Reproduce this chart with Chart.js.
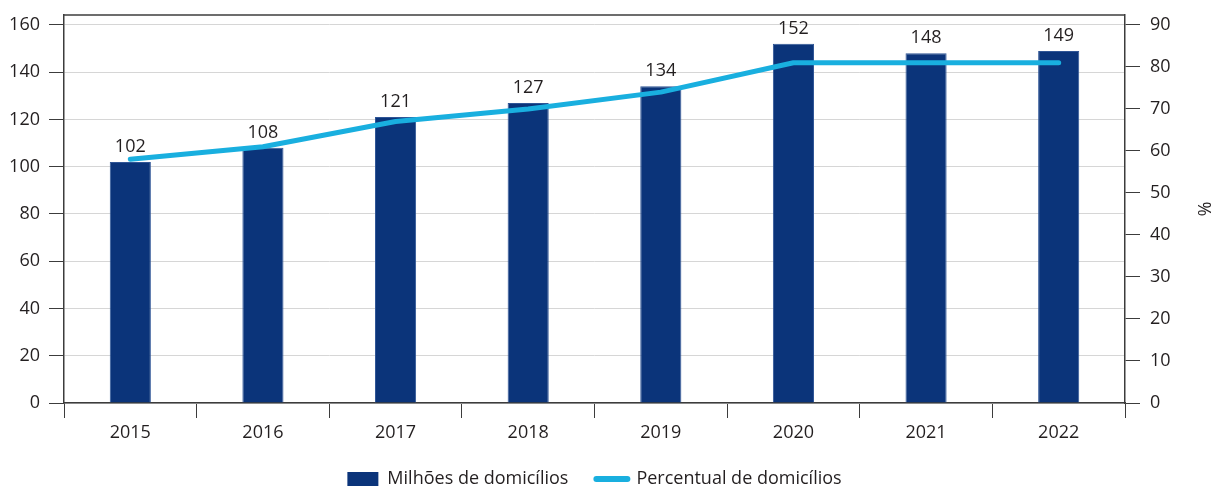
<!DOCTYPE html>
<html>
<head>
<meta charset="utf-8">
<script src="https://cdn.jsdelivr.net/npm/chart.js@4"></script>
<style>
  html, body { margin: 0; padding: 0; background: #fff; }
  #wrap { width: 1217px; height: 489px; }
</style>
</head>
<body>
<div id="wrap"><canvas id="chart"></canvas></div>
<script>
const YEARS = ['2015', '2016', '2017', '2018', '2019', '2020', '2021', '2022'];
const MILHOES = [102, 108, 121, 127, 134, 152, 148, 149];
const PERCENTUAL = [58, 61, 67, 70, 74, 81, 81, 81];
const LEFT_TICKS = [0, 20, 40, 60, 80, 100, 120, 140, 160];
const RIGHT_TICKS = [0, 10, 20, 30, 40, 50, 60, 70, 80, 90];

const NAVY = '#0b347a';
const CYAN = '#19afdf';
const INK = '#231f20';
const AXIS = '#3c3c3c';
const FONT = "'Open Sans', 'Noto Sans', sans-serif";

Chart.defaults.font.family = FONT;
Chart.defaults.font.size = 18;
Chart.defaults.color = INK;

// the y axes reach above 160 / 90, so their labels never overhang the plot
function noOverhang(scale) {
  scale.paddingTop = 0;
  scale.paddingBottom = 0;
}

new Chart(document.getElementById('chart').getContext('2d'), {
  type: 'bar',
  data: {
    labels: YEARS,
    datasets: [
      {
        type: 'bar',
        label: 'Milhões de domicílios',
        data: MILHOES,
        backgroundColor: NAVY,
        borderColor: '#2f5596',
        borderWidth: 1,
        barPercentage: 0.31,
        categoryPercentage: 1,
        yAxisID: 'y',
        order: 2,
      },
      {
        type: 'line',
        label: 'Percentual de domicílios',
        data: PERCENTUAL,
        borderColor: CYAN,
        backgroundColor: CYAN,
        borderWidth: 5,
        borderCapStyle: 'round',
        borderJoinStyle: 'round',
        pointRadius: 0,
        tension: 0,
        yAxisID: 'y1',
        order: 1,
      },
    ],
  },
  options: {
    responsive: true,
    maintainAspectRatio: false,
    animation: false,
    layout: { padding: { top: 15, left: 0, right: 0, bottom: -9 } },
    plugins: {
      tooltip: { enabled: false },
      legend: {
        position: 'bottom',
        fullSize: false,
        labels: {
          usePointStyle: true,
          pointStyleWidth: 31,
          boxHeight: 14,
          padding: 28,
          color: INK,
          font: { size: 18 },
          generateLabels(chart) {
            return chart.data.datasets.map((ds, i) => ({
              text: ds.label,
              datasetIndex: i,
              fillStyle: ds.type === 'bar' ? NAVY : CYAN,
              strokeStyle: ds.type === 'bar' ? NAVY : CYAN,
              lineWidth: ds.type === 'bar' ? 0 : 6,
              lineCap: 'round',
              pointStyle: ds.type === 'bar' ? 'rect' : 'line',
              fontColor: INK,
            }));
          },
        },
      },
    },
    scales: {
      x: {
        grid: {
          display: true,
          drawOnChartArea: false,
          offset: true,
          tickLength: 15,
          tickColor: AXIS,
        },
        border: { color: AXIS, width: 1.5 },
        ticks: { padding: 4, color: INK },
        afterFit(scale) { scale.height = 39; },
      },
      y: {
        position: 'left',
        min: 0,
        max: 164.2,
        afterBuildTicks(scale) { scale.ticks = LEFT_TICKS.map(v => ({ value: v })); },
        grid: { color: '#d6d6d6', tickLength: 15, tickColor: AXIS },
        border: { color: AXIS, width: 1.5 },
        ticks: { padding: 9, color: INK },
        afterFit(scale) { scale.width = 64; noOverhang(scale); },
      },
      y1: {
        position: 'right',
        min: 0,
        max: 92.36,
        afterBuildTicks(scale) { scale.ticks = RIGHT_TICKS.map(v => ({ value: v })); },
        grid: { drawOnChartArea: false, tickLength: 15, tickColor: AXIS },
        border: { color: AXIS, width: 1.5 },
        ticks: { padding: 10, color: INK },
        title: { display: true, text: '%', color: INK, font: { size: 18 }, padding: { top: 3, bottom: 0 } },
        afterFit(scale) { scale.width = 92; noOverhang(scale); },
      },
    },
  },
  plugins: [{
    id: 'frame-and-values',
    afterDatasetsDraw(chart) {
      const { ctx, chartArea } = chart;
      ctx.save();
      ctx.strokeStyle = AXIS;
      ctx.lineWidth = 1.5;
      ctx.beginPath();
      ctx.moveTo(chartArea.left, chartArea.top);
      ctx.lineTo(chartArea.right, chartArea.top);
      ctx.stroke();

      const meta = chart.getDatasetMeta(0);
      ctx.fillStyle = INK;
      ctx.font = `18px ${FONT}`;
      ctx.textAlign = 'center';
      ctx.textBaseline = 'alphabetic';
      meta.data.forEach((bar, i) => {
        ctx.fillText(String(MILHOES[i]), bar.x, bar.y - 10);
      });
      ctx.restore();
    },
  }],
});
</script>
</body>
</html>
